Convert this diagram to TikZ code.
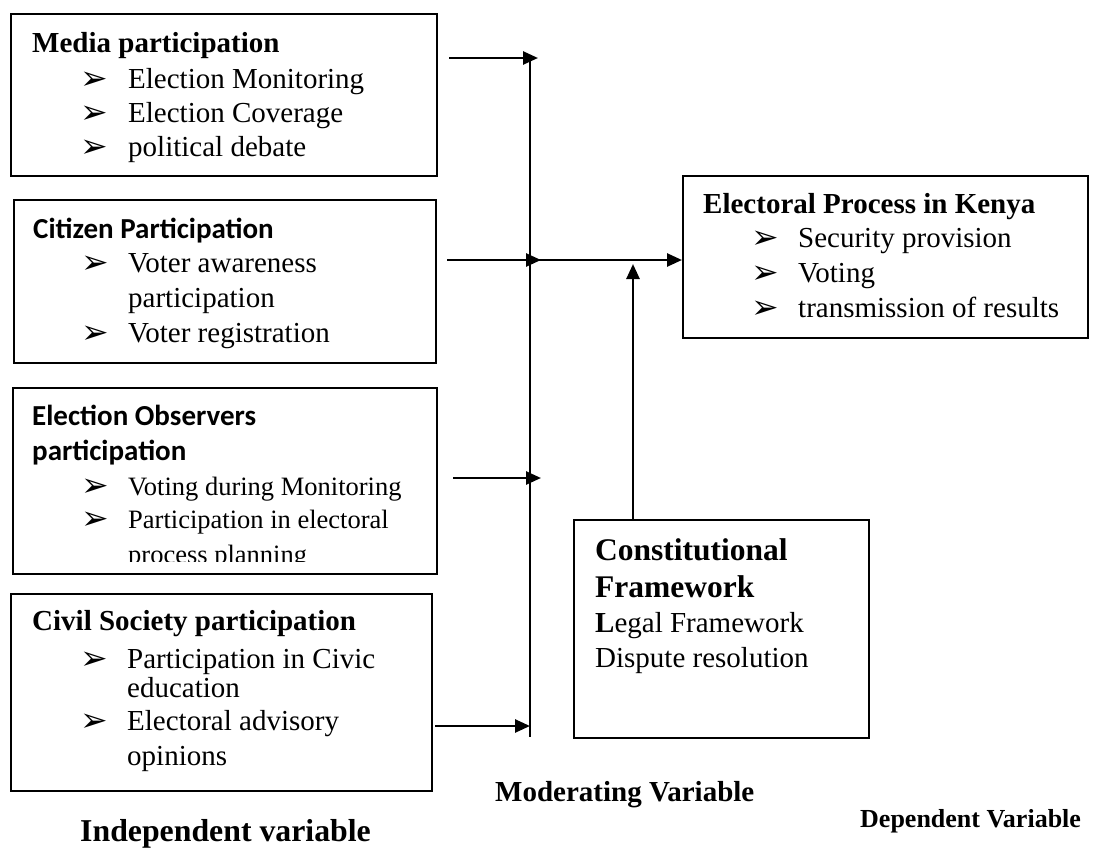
\documentclass[tikz,border=0pt]{standalone}
\usepackage{fontspec}
\setmainfont{Liberation Serif}
\newfontfamily\calib{Carlito}
\newfontfamily\dvs{DejaVu Sans}
\usetikzlibrary{arrows.meta}
\newcommand{\bul}{{\dvs\fontsize{33}{33}\selectfont\char"27A2}}
\begin{document}
\begin{tikzpicture}[x=1pt,y=-1pt,
  box/.style={draw, line width=2pt, anchor=north west, inner sep=0pt},
  txt/.style={anchor=base west, inner sep=0pt, font=\fontsize{29}{31}\selectfont},
  stxt/.style={anchor=base west, inner sep=0pt, font=\fontsize{26.5}{28}\selectfont},
  ctitle/.style={anchor=base west, inner sep=0pt, font=\calib\bfseries\fontsize{29}{31}\selectfont},
  bt/.style={anchor=base west, inner sep=0pt},
  arr/.style={line width=2.6pt, -{Triangle[length=15pt,width=13pt]}},
  vline/.style={line width=1.8pt},
  lab/.style={anchor=base west, inner sep=0pt}
]
\useasboundingbox[fill=white] (0,0) rectangle (1093,849);

% boxes
\node[box, minimum width=426pt, minimum height=162pt] (media) at (10,13) {};
\node[box, minimum width=422pt, minimum height=163pt] (citz) at (13,199) {};
\node[box, minimum width=424pt, minimum height=186pt] (obs) at (12,387) {};
\node[box, minimum width=421pt, minimum height=197pt] (civ) at (10,593) {};
\node[box, minimum width=405pt, minimum height=162pt] (elec) at (682,175) {};
\node[box, minimum width=295pt, minimum height=218pt] (cons) at (573,519) {};

% Media
\node[txt] (m0) at (32,52) {\bfseries Media participation};
\node[bt] (mb1) at (80,89) {\bul};
\node[txt] (m1) at (128,88) {Election Monitoring};
\node[bt] (mb2) at (80,123) {\bul};
\node[txt] (m2) at (128,122) {Election Coverage};
\node[bt] (mb3) at (80,157) {\bul};
\node[txt] (m3) at (128,156) {political debate};

% Citizen
\node[ctitle] (c0) at (33,238) {Citizen Participation};
\node[bt] (cb1) at (81,273) {\bul};
\node[txt] (c1) at (128,272) {Voter awareness};
\node[txt] (c2) at (128,307) {participation};
\node[bt] (cb3) at (81,343) {\bul};
\node[txt] (c3) at (128,342) {Voter registration};

% Observers
\node[ctitle] (o0) at (32,425) {Election Observers};
\node[ctitle] (o0b) at (32,460) {participation};
\node[bt] (ob1) at (81,496) {\bul};
\node[stxt] (o1) at (128,495) {Voting during Monitoring};
\node[bt] (ob2) at (81,529) {\bul};
\node[stxt] (o2) at (128,528) {Participation in electoral};
\begin{scope}
\clip (12,387) rectangle (436,561);
\node[stxt] (o3) at (128,563) {process planning};
\end{scope}

% Civil society
\node[bt, font=\bfseries\fontsize{29}{31}\selectfont] (v0) at (32,630) {Civil Society participation};
\node[bt] (vb1) at (80,669) {\bul};
\node[txt] (v1) at (127,668) {Participation in Civic};
\node[txt] (v2) at (127,697) {education};
\node[bt] (vb3) at (80,731) {\bul};
\node[txt] (v3) at (127,730) {Electoral advisory};
\node[txt] (v4) at (127,765) {opinions};

% Electoral process
\node[txt] (e0) at (703,213) {\bfseries Electoral Process in Kenya};
\node[bt] (eb1) at (751,248) {\bul};
\node[txt] (e1) at (798,247) {Security provision};
\node[bt] (eb2) at (751,283) {\bul};
\node[txt] (e2) at (798,282) {Voting};
\node[bt] (eb3) at (751,318) {\bul};
\node[txt] (e3) at (798,317) {transmission of results};

% Constitutional
\node[bt, font=\bfseries\fontsize{31.5}{33}\selectfont] (k0) at (595,560) {Constitutional};
\node[bt, font=\bfseries\fontsize{31.5}{33}\selectfont] (k1) at (595,597) {Framework};
\node[txt] (k2) at (595,632) {\textbf{L}egal Framework};
\node[txt] (k3) at (595,667) {Dispute resolution};

% moderating line
\coordinate (vtop) at (530,58);
\coordinate (vbot) at (530,737);
\draw[vline] (vtop) -- (vbot);

% arrows
\coordinate (a1) at (449,58);
\coordinate (a2) at (447,260);
\coordinate (a3) at (453,478);
\coordinate (a4) at (435,726);
\coordinate (a5) at (633,264);
\draw[arr] (a1) -- ([xshift=8pt]a1 -| vtop);
\draw[arr] (a2) -- ([xshift=11pt]a2 -| vtop);
\draw[arr] (a2 -| vtop) -- (a2 -| elec.west);
\draw[arr] (a3) -- ([xshift=11pt]a3 -| vtop);
\draw[arr] (a4) -- (a4 -| vtop);
\draw[arr] (a5 |- cons.north) -- (a5);

% labels
\node[lab, font=\bfseries\fontsize{29}{31}\selectfont] (lm) at (495,801) {Moderating Variable};
\node[lab, font=\bfseries\fontsize{31.8}{33}\selectfont] (li) at (80,841) {Independent variable};
\node[lab, font=\bfseries\fontsize{26}{28}\selectfont] (ld) at (860,827) {Dependent Variable};
\end{tikzpicture}
\end{document}
